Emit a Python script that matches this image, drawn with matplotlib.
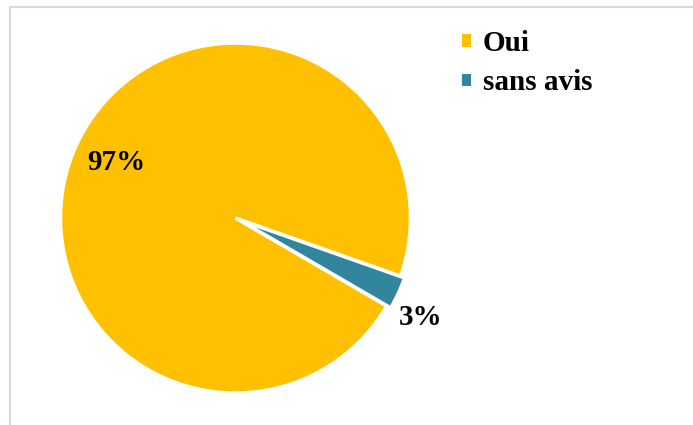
import matplotlib.pyplot as plt
from matplotlib.patches import Patch, Rectangle

plt.rcParams['font.family'] = ['Liberation Serif', 'DejaVu Serif']

labels = ['Oui', 'sans avis']
values = [97, 3]
colors = ['#FFC000', '#31859C']

W, H = 693, 425
fig = plt.figure(figsize=(W / 100, H / 100), dpi=100)

# light grey chart frame (right and bottom sides run off the canvas)
fig.patches.append(Rectangle((10 / W, -0.1), 1.2, 1 - 7 / H + 0.1,
                             transform=fig.transFigure, fill=False,
                             edgecolor='#D9D9D9', linewidth=1.5))

# square axes around the pie, radius 175 px
cx, cy, r = 235.5, H - 218, 175
lim = 1.1
side = 2 * r * lim
ax = fig.add_axes([(cx - side / 2) / W, (cy - side / 2) / H, side / W, side / H])

wedges, texts, autotexts = ax.pie(
    values, colors=colors, startangle=-19.4, counterclock=True,
    explode=[0, 0.025], autopct='%.0f%%', pctdistance=0.75,
    wedgeprops=dict(edgecolor='white', linewidth=2.5),
    textprops=dict(fontsize=21, fontweight='bold', color='black'))
autotexts[1].set_position((1.06, -0.57))
ax.set_xlim(-lim, lim)
ax.set_ylim(-lim, lim)
ax.set_aspect('equal')
ax.axis('off')

handles = [Patch(facecolor=c, edgecolor='none') for c in colors]
fig.legend(handles, labels, loc='upper left', bbox_to_anchor=(436 / W, 1 - 4 / H),
           frameon=False, handlelength=0.3, handleheight=0.3,
           handletextpad=0.4, labelspacing=0.42,
           prop=dict(size=21, weight='bold'))

fig.savefig('out.png', dpi=100)
